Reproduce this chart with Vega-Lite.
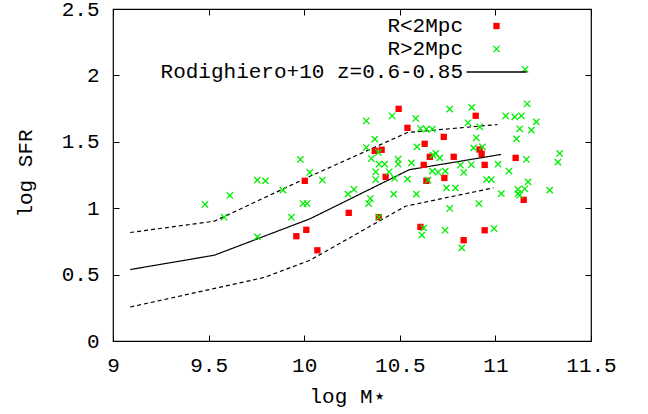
{
  "$schema": "https://vega.github.io/schema/vega-lite/v6.json",
  "width": 478,
  "height": 332,
  "autosize": {"type": "none"},
  "padding": {"left": 113, "top": 9, "right": 57, "bottom": 73},
  "background": "white",
  "config": {
    "view": {"stroke": "black", "strokeWidth": 1.2},
    "font": "Liberation Mono",
    "axis": {
      "grid": false,
      "domain": false,
      "tickColor": "black",
      "tickSize": -6,
      "tickWidth": 1,
      "labelFont": "Liberation Mono",
      "labelFontSize": 21,
      "labelColor": "black",
      "labelOverlap": false,
      "labelBound": false,
      "labelFlush": false,
      "titleFont": "Liberation Mono",
      "titleFontSize": 21,
      "titleFontWeight": "normal",
      "titleColor": "black"
    }
  },
  "datasets": {
    "rod": [
      {"m": 9.09, "sfr": 0.538, "band": "mid"},
      {"m": 9.53, "sfr": 0.646, "band": "mid"},
      {"m": 10.03, "sfr": 0.92, "band": "mid"},
      {"m": 10.55, "sfr": 1.29, "band": "mid"},
      {"m": 11.03, "sfr": 1.405, "band": "mid"},
      {"m": 9.09, "sfr": 0.817, "band": "upper"},
      {"m": 9.53, "sfr": 0.902, "band": "upper"},
      {"m": 10.03, "sfr": 1.24, "band": "upper"},
      {"m": 10.54, "sfr": 1.57, "band": "upper"},
      {"m": 11.01, "sfr": 1.63, "band": "upper"},
      {"m": 9.09, "sfr": 0.256, "band": "lower"},
      {"m": 9.79, "sfr": 0.478, "band": "lower"},
      {"m": 10.03, "sfr": 0.608, "band": "lower"},
      {"m": 10.53, "sfr": 1.015, "band": "lower"},
      {"m": 10.99, "sfr": 1.153, "band": "lower"}
    ],
    "pts": [
      {"m": 10.494, "sfr": 1.748, "sample": "R<2Mpc"},
      {"m": 10.54, "sfr": 1.605, "sample": "R<2Mpc"},
      {"m": 10.63, "sfr": 1.485, "sample": "R<2Mpc"},
      {"m": 10.73, "sfr": 1.537, "sample": "R<2Mpc"},
      {"m": 10.369, "sfr": 1.432, "sample": "R<2Mpc"},
      {"m": 10.405, "sfr": 1.44, "sample": "R<2Mpc"},
      {"m": 10.657, "sfr": 1.387, "sample": "R<2Mpc"},
      {"m": 10.782, "sfr": 1.387, "sample": "R<2Mpc"},
      {"m": 10.625, "sfr": 1.326, "sample": "R<2Mpc"},
      {"m": 10.426, "sfr": 1.236, "sample": "R<2Mpc"},
      {"m": 10.639, "sfr": 1.206, "sample": "R<2Mpc"},
      {"m": 10.733, "sfr": 1.228, "sample": "R<2Mpc"},
      {"m": 10.003, "sfr": 1.206, "sample": "R<2Mpc"},
      {"m": 10.897, "sfr": 1.696, "sample": "R<2Mpc"},
      {"m": 10.917, "sfr": 1.442, "sample": "R<2Mpc"},
      {"m": 10.928, "sfr": 1.409, "sample": "R<2Mpc"},
      {"m": 10.944, "sfr": 1.326, "sample": "R<2Mpc"},
      {"m": 11.106, "sfr": 1.379, "sample": "R<2Mpc"},
      {"m": 11.148, "sfr": 1.063, "sample": "R<2Mpc"},
      {"m": 10.011, "sfr": 0.837, "sample": "R<2Mpc"},
      {"m": 9.959, "sfr": 0.789, "sample": "R<2Mpc"},
      {"m": 10.069, "sfr": 0.683, "sample": "R<2Mpc"},
      {"m": 10.233, "sfr": 0.965, "sample": "R<2Mpc"},
      {"m": 10.39, "sfr": 0.932, "sample": "R<2Mpc"},
      {"m": 10.608, "sfr": 0.859, "sample": "R<2Mpc"},
      {"m": 10.944, "sfr": 0.834, "sample": "R<2Mpc"},
      {"m": 10.834, "sfr": 0.759, "sample": "R<2Mpc"},
      {"m": 9.481, "sfr": 1.028, "sample": "R>2Mpc"},
      {"m": 9.611, "sfr": 1.096, "sample": "R>2Mpc"},
      {"m": 9.755, "sfr": 1.211, "sample": "R>2Mpc"},
      {"m": 9.797, "sfr": 1.206, "sample": "R>2Mpc"},
      {"m": 9.889, "sfr": 1.136, "sample": "R>2Mpc"},
      {"m": 9.581, "sfr": 0.932, "sample": "R>2Mpc"},
      {"m": 9.755, "sfr": 0.784, "sample": "R>2Mpc"},
      {"m": 9.933, "sfr": 0.932, "sample": "R>2Mpc"},
      {"m": 9.994, "sfr": 1.035, "sample": "R>2Mpc"},
      {"m": 10.015, "sfr": 1.035, "sample": "R>2Mpc"},
      {"m": 9.98, "sfr": 1.367, "sample": "R>2Mpc"},
      {"m": 10.029, "sfr": 1.269, "sample": "R>2Mpc"},
      {"m": 10.095, "sfr": 1.211, "sample": "R>2Mpc"},
      {"m": 10.761, "sfr": 1.746, "sample": "R>2Mpc"},
      {"m": 10.46, "sfr": 1.696, "sample": "R>2Mpc"},
      {"m": 10.583, "sfr": 1.676, "sample": "R>2Mpc"},
      {"m": 10.325, "sfr": 1.658, "sample": "R>2Mpc"},
      {"m": 10.608, "sfr": 1.6, "sample": "R>2Mpc"},
      {"m": 10.639, "sfr": 1.595, "sample": "R>2Mpc"},
      {"m": 10.67, "sfr": 1.595, "sample": "R>2Mpc"},
      {"m": 10.369, "sfr": 1.52, "sample": "R>2Mpc"},
      {"m": 10.325, "sfr": 1.457, "sample": "R>2Mpc"},
      {"m": 10.388, "sfr": 1.42, "sample": "R>2Mpc"},
      {"m": 10.59, "sfr": 1.462, "sample": "R>2Mpc"},
      {"m": 10.351, "sfr": 1.374, "sample": "R>2Mpc"},
      {"m": 10.688, "sfr": 1.412, "sample": "R>2Mpc"},
      {"m": 10.674, "sfr": 1.4, "sample": "R>2Mpc"},
      {"m": 10.709, "sfr": 1.379, "sample": "R>2Mpc"},
      {"m": 10.391, "sfr": 1.331, "sample": "R>2Mpc"},
      {"m": 10.421, "sfr": 1.331, "sample": "R>2Mpc"},
      {"m": 10.491, "sfr": 1.369, "sample": "R>2Mpc"},
      {"m": 10.491, "sfr": 1.331, "sample": "R>2Mpc"},
      {"m": 10.561, "sfr": 1.341, "sample": "R>2Mpc"},
      {"m": 10.374, "sfr": 1.274, "sample": "R>2Mpc"},
      {"m": 10.444, "sfr": 1.274, "sample": "R>2Mpc"},
      {"m": 10.374, "sfr": 1.216, "sample": "R>2Mpc"},
      {"m": 10.473, "sfr": 1.224, "sample": "R>2Mpc"},
      {"m": 10.54, "sfr": 1.219, "sample": "R>2Mpc"},
      {"m": 10.67, "sfr": 1.279, "sample": "R>2Mpc"},
      {"m": 10.7, "sfr": 1.271, "sample": "R>2Mpc"},
      {"m": 10.738, "sfr": 1.279, "sample": "R>2Mpc"},
      {"m": 10.648, "sfr": 1.211, "sample": "R>2Mpc"},
      {"m": 10.744, "sfr": 1.153, "sample": "R>2Mpc"},
      {"m": 10.791, "sfr": 1.153, "sample": "R>2Mpc"},
      {"m": 10.229, "sfr": 1.106, "sample": "R>2Mpc"},
      {"m": 10.26, "sfr": 1.141, "sample": "R>2Mpc"},
      {"m": 10.468, "sfr": 1.106, "sample": "R>2Mpc"},
      {"m": 10.587, "sfr": 1.106, "sample": "R>2Mpc"},
      {"m": 10.346, "sfr": 1.073, "sample": "R>2Mpc"},
      {"m": 10.337, "sfr": 1.035, "sample": "R>2Mpc"},
      {"m": 10.761, "sfr": 0.998, "sample": "R>2Mpc"},
      {"m": 11.166, "sfr": 1.786, "sample": "R>2Mpc"},
      {"m": 10.876, "sfr": 1.759, "sample": "R>2Mpc"},
      {"m": 11.054, "sfr": 1.696, "sample": "R>2Mpc"},
      {"m": 11.101, "sfr": 1.688, "sample": "R>2Mpc"},
      {"m": 11.136, "sfr": 1.696, "sample": "R>2Mpc"},
      {"m": 11.214, "sfr": 1.65, "sample": "R>2Mpc"},
      {"m": 10.857, "sfr": 1.643, "sample": "R>2Mpc"},
      {"m": 10.918, "sfr": 1.613, "sample": "R>2Mpc"},
      {"m": 11.127, "sfr": 1.598, "sample": "R>2Mpc"},
      {"m": 11.188, "sfr": 1.588, "sample": "R>2Mpc"},
      {"m": 10.9, "sfr": 1.53, "sample": "R>2Mpc"},
      {"m": 11.11, "sfr": 1.522, "sample": "R>2Mpc"},
      {"m": 10.886, "sfr": 1.454, "sample": "R>2Mpc"},
      {"m": 10.932, "sfr": 1.462, "sample": "R>2Mpc"},
      {"m": 11.336, "sfr": 1.412, "sample": "R>2Mpc"},
      {"m": 11.327, "sfr": 1.347, "sample": "R>2Mpc"},
      {"m": 11.162, "sfr": 1.367, "sample": "R>2Mpc"},
      {"m": 11.014, "sfr": 1.331, "sample": "R>2Mpc"},
      {"m": 10.817, "sfr": 1.324, "sample": "R>2Mpc"},
      {"m": 10.874, "sfr": 1.329, "sample": "R>2Mpc"},
      {"m": 11.071, "sfr": 1.279, "sample": "R>2Mpc"},
      {"m": 10.834, "sfr": 1.269, "sample": "R>2Mpc"},
      {"m": 10.953, "sfr": 1.216, "sample": "R>2Mpc"},
      {"m": 10.979, "sfr": 1.216, "sample": "R>2Mpc"},
      {"m": 11.171, "sfr": 1.198, "sample": "R>2Mpc"},
      {"m": 11.031, "sfr": 1.11, "sample": "R>2Mpc"},
      {"m": 11.118, "sfr": 1.141, "sample": "R>2Mpc"},
      {"m": 11.153, "sfr": 1.146, "sample": "R>2Mpc"},
      {"m": 11.118, "sfr": 1.11, "sample": "R>2Mpc"},
      {"m": 11.127, "sfr": 1.098, "sample": "R>2Mpc"},
      {"m": 11.284, "sfr": 1.136, "sample": "R>2Mpc"},
      {"m": 10.914, "sfr": 1.035, "sample": "R>2Mpc"},
      {"m": 10.39, "sfr": 0.932, "sample": "R>2Mpc"},
      {"m": 10.625, "sfr": 0.852, "sample": "R>2Mpc"},
      {"m": 10.615, "sfr": 0.797, "sample": "R>2Mpc"},
      {"m": 10.737, "sfr": 0.834, "sample": "R>2Mpc"},
      {"m": 10.993, "sfr": 0.847, "sample": "R>2Mpc"},
      {"m": 10.824, "sfr": 0.701, "sample": "R>2Mpc"},
      {"m": 11.155, "sfr": 2.046, "sample": "R>2Mpc"}
    ]
  },
  "layer": [
    {
      "data": {"name": "rod"},
      "mark": {"type": "line", "color": "black", "strokeWidth": 1.2},
      "encoding": {
        "x": {
          "field": "m", "type": "quantitative",
          "scale": {"domain": [9, 11.5], "nice": false, "zero": false},
          "axis": {"orient": "top", "labels": false, "title": null, "values": [9, 9.5, 10, 10.5, 11, 11.5]}
        },
        "y": {
          "field": "sfr", "type": "quantitative",
          "scale": {"domain": [0, 2.5], "nice": false, "zero": false},
          "axis": {"orient": "right", "labels": false, "title": null, "values": [0, 0.5, 1, 1.5, 2, 2.5]}
        },
        "detail": {"field": "band"},
        "strokeDash": {
          "field": "band", "type": "nominal",
          "scale": {"domain": ["mid", "upper", "lower"], "range": [[1, 0], [4, 3], [4, 3]]},
          "legend": null
        }
      }
    },
    {
      "data": {"name": "pts"},
      "mark": {"type": "point", "size": 40, "opacity": 1, "strokeWidth": 1.3},
      "encoding": {
        "x": {
          "field": "m", "type": "quantitative",
          "scale": {"domain": [9, 11.5], "nice": false, "zero": false},
          "axis": {
            "orient": "bottom", "title": "log M⋆", "values": [9, 9.5, 10, 10.5, 11, 11.5],
            "labelExpr": "'' + datum.value", "labelPadding": 19, "labelDx": 7,
            "titleY": 55, "titleX": 234, "titleBaseline": "middle"
          }
        },
        "y": {
          "field": "sfr", "type": "quantitative",
          "scale": {"domain": [0, 2.5], "nice": false, "zero": false},
          "axis": {
            "orient": "left", "title": "log SFR", "values": [0, 0.5, 1, 1.5, 2, 2.5],
            "labelExpr": "'' + datum.value", "labelPadding": 20, "labelDy": 1,
            "titleX": -88, "titleY": 164, "titleAngle": -90, "titleBaseline": "middle", "titleAlign": "center"
          }
        },
        "shape": {
          "field": "sample", "type": "nominal",
          "scale": {
            "domain": ["R<2Mpc", "R>2Mpc", "Rodighiero+10 z=0.6-0.85"],
            "range": ["square", "M-1,-1L1,1M-1,1L1,-1", "M-9.5,0L9.5,0"]
          },
          "legend": {
            "title": null,
            "orient": "none",
            "legendX": 373,
            "legendY": 6.5,
            "padding": 0,
            "labelAlign": "right",
            "labelOffset": -44,
            "labelFont": "Liberation Mono",
            "labelFontSize": 21,
            "labelColor": "black",
            "labelLimit": 0,
            "symbolSize": 40,
            "symbolStrokeWidth": 1.3,
            "rowPadding": 1
          }
        },
        "fill": {
          "field": "sample", "type": "nominal",
          "scale": {
            "domain": ["R<2Mpc", "R>2Mpc", "Rodighiero+10 z=0.6-0.85"],
            "range": ["#ff0000", "transparent", "transparent"]
          }
        },
        "stroke": {
          "field": "sample", "type": "nominal",
          "scale": {
            "domain": ["R<2Mpc", "R>2Mpc", "Rodighiero+10 z=0.6-0.85"],
            "range": ["transparent", "#00ee00", "#000000"]
          }
        }
      }
    }
  ],
  "resolve": {"axis": {"x": "independent", "y": "independent"}}
}
